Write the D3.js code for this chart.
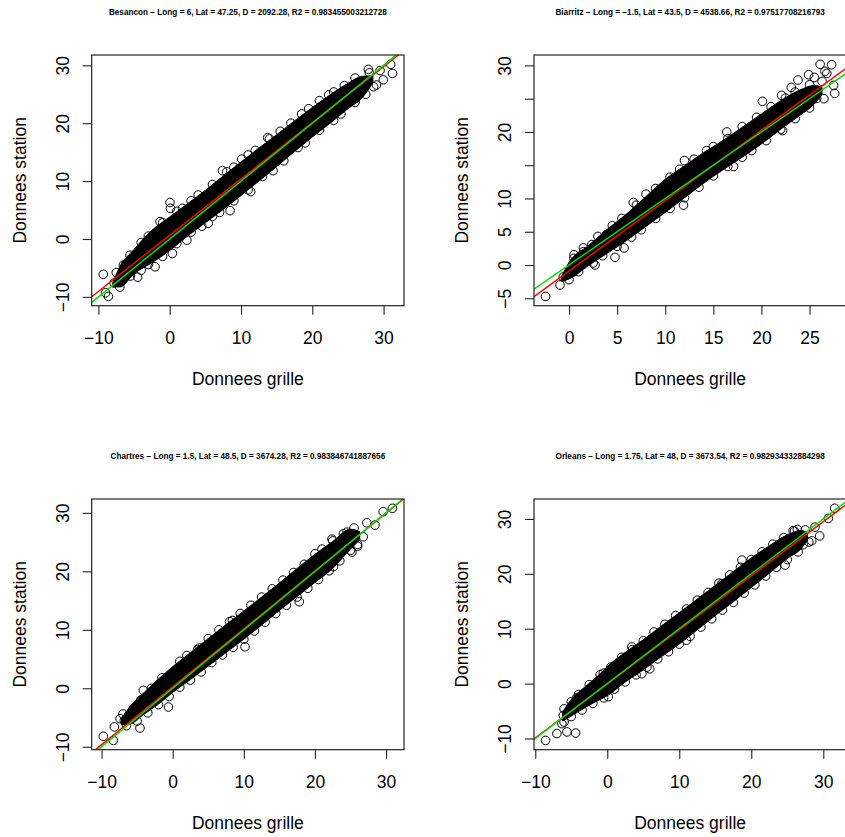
<!DOCTYPE html>
<html><head><meta charset="utf-8">
<script src="https://cdn.jsdelivr.net/npm/d3@7"></script>
<style>
body{margin:0;background:#fff}
svg{display:block}
text{font-family:"Liberation Sans",Arial,Helvetica,sans-serif;fill:#000}
</style>
</head><body>
<svg id="chart" width="845" height="837"></svg>
<script>
// ---------- DATA ----------
const stationNames = ["Besancon", "Biarritz", "Chartres", "Orleans"];
const stationLong = ["6", "−1.5", "1.5", "1.75"];
const stationLat = ["47.25", "43.5", "48.5", "48"];
const stationD = ["2092.28", "4538.66", "3674.28", "3673.54"];
const stationR2 = ["0.983455003212728", "0.97517708216793", "0.983846741887656", "0.982934332884298"];

// fitted regression line (red) per station: station = a + b * grille
const regIntercept = [0.65, -0.9, 0.25, -0.05];
const regSlope = [0.971, 1.058, 0.99, 0.985];

// tick values
const besanconXTicks = [-10, 0, 10, 20, 30];
const besanconYTicks = [-10, 0, 10, 20, 30];
const biarritzXTicks = [0, 5, 10, 15, 20, 25];
const biarritzYTicks = [-5, 0, 5, 10, 15, 20, 25, 30];
const biarritzYLabels = ["−5", "0", "5", "10", "", "20", "", "30"];
const chartresXTicks = [-10, 0, 10, 20, 30];
const chartresYTicks = [-10, 0, 10, 20, 30];
const orleansXTicks = [-10, 0, 10, 20, 30];
const orleansYTicks = [-10, 0, 10, 20, 30];

// dense (over-plotted) core of the point cloud: grille value, lowest / highest station value
const besanconEnvX  = [-8.0, -7, -5, -2.5, 0, 2.5, 5, 7.5, 10, 12.5, 15, 17.5, 20, 22.5, 25, 27, 28.5];
const besanconEnvHi = [-7.6, -4.8, -1.8, 1.5, 3.8, 6.1, 8.4, 10.9, 13.3, 15.7, 18.0, 20.4, 22.7, 24.9, 26.9, 28.1, 28.2];
const besanconEnvLo = [-8.2, -8.3, -6.0, -4.1, -2.0, 0.5, 2.8, 5.1, 7.5, 10.0, 12.5, 15.1, 17.6, 20.0, 22.5, 24.4, 27.0];

const biarritzEnvX  = [-0.8, 0, 2, 4, 6, 8, 10, 12, 14, 16, 18, 20, 22, 24, 25.5, 26.3];
const biarritzEnvHi = [-1.8, 0.4, 2.9, 5.4, 7.7, 10.3, 12.9, 14.9, 16.9, 18.7, 20.7, 22.7, 24.7, 26.3, 27.0, 26.7];
const biarritzEnvLo = [-2.4, -2.1, -0.1, 1.8, 3.7, 5.8, 7.9, 10.1, 12.3, 14.3, 16.2, 18.2, 20.4, 22.5, 24.2, 25.6];

const chartresEnvX  = [-7.2, -6, -4, -2, 0, 2.5, 5, 7.5, 10, 12.5, 15, 17.5, 20, 22.5, 25, 26.3];
const chartresEnvHi = [-5.2, -3.1, -0.7, 1.6, 3.7, 6.1, 8.5, 10.9, 13.2, 15.6, 18.0, 20.5, 22.9, 25.1, 27.2, 26.8];
const chartresEnvLo = [-6.2, -6.1, -4.4, -2.7, -0.7, 1.5, 3.8, 6.1, 8.4, 10.8, 13.3, 15.7, 18.1, 20.5, 23.8, 25.4];

const orleansEnvX  = [-6.2, -5, -3, -1, 0, 2.5, 5, 7.5, 10, 12.5, 15, 17.5, 20, 22.5, 25, 27, 27.8];
const orleansEnvHi = [-5.2, -2.9, -0.5, 1.8, 3.1, 5.7, 8.0, 10.5, 12.9, 15.4, 17.9, 20.4, 22.9, 25.1, 27.1, 27.9, 27.4];
const orleansEnvLo = [-6.8, -5.9, -4.3, -2.9, -2.2, 0.3, 2.5, 4.9, 7.2, 9.8, 12.4, 14.9, 17.5, 20.1, 22.8, 24.7, 26.2];

// individually visible points [grille, station]
const besanconPts = [
  [-9.32,-6.1],[-8.6,-9.92],[-9.0,-9.3],[-7.8,-7.6],[-6.2,-4.4],[-5.57,-2.8],[-4.5,-6.6],[-2.06,-4.8],
  [-1.36,3.0],[0.04,6.3],[0.1,5.3],[1.8,5.3],[0.37,-2.5],[2.4,-0.2],[5.4,2.7],[7.4,11.8],[8.46,4.9],
  [10.1,13.8],[11.36,8.2],[13.74,17.5],[22.3,24.9],[27.86,29.3],[31.0,30.18],[31.24,28.6],[29.96,27.5],
  [29.5,29.1],[28.6,26.3],
  [-7.5,-5.8],[-6.5,-4.5],[-4,-0.6],[-3,0.5],[-1,2.8],[1,4.8],[3,6.6],[4,7.6],[6,9.4],[8,11.6],[9,12.4],
  [11,14.5],[12,15.3],[14,17.3],[15.5,18.6],[17,20.0],[18.5,21.6],[19.5,22.5],[21,23.9],[23,25.4],
  [24.5,26.5],[26,27.8],[28,28.7],
  [-7,-8.3],[-5.5,-6.4],[-4,-5.4],[-3,-4.4],[-1,-3.0],[1,-0.8],[3,1.2],[4.5,2.2],[6,3.9],[7,4.6],
  [9,6.6],[11,8.5],[13,10.8],[14.5,11.8],[16,13.5],[18,15.8],[19,16.6],[21,18.8],[23,20.5],[24,21.6],
  [26,23.6],[27.5,25.0],[29,26.6]
];
const biarritzPts = [
  [-2.44,-4.72],[-0.94,-3.0],[-0.6,-1.8],[0.52,1.56],[1.49,2.57],[2.36,3.07],[2.7,0],[3.9,4.6],
  [4.78,1.15],[5.72,2.57],[6.68,9.4],[8.0,10.65],[11.9,9.0],[12.0,15.7],[14.3,17.2],[17.1,14.8],
  [16.4,20.0],[20.1,24.6],[22.2,20.2],[23.1,26.7],[23.8,27.8],[26.1,30.17],[27.3,30.1],[27.62,25.8],
  [27.5,27.0],[26.6,29.1],[25.75,25.05],[24.9,28.6],[22.1,25.5],[25.5,28.2],[26.8,28.8],[24.5,24.0],
  [0.5,1.0],[1.5,2.0],[3,4.3],[4.5,5.9],[5.5,7.0],[7,9.0],[9,11.5],[10.5,13.2],[11.5,14.4],[13,15.9],
  [15,17.8],[16.5,19.0],[18,20.8],[19.5,22.2],[21,23.8],[22.5,25.1],[23.5,26.0],[25,27.1],[26.3,27.6],
  [0,-2.2],[1,-1.0],[2.5,0.3],[3.5,1.4],[5,2.8],[6.5,4.2],[7.5,5.3],[9,7.0],[10.5,8.5],[12,10.1],
  [13.5,11.7],[15,13.4],[16.5,14.8],[18,16.2],[19,17.2],[20.5,18.7],[22,20.4],[23.5,22.0],[25,23.6],[26.5,25.0]
];
const chartresPts = [
  [-9.76,-8.2],[-8.35,-8.91],[-8.2,-6.6],[-7.4,-5.2],[-6.8,-5.5],[-4.6,-6.8],[-4.13,-0.34],[-0.6,-3.2],
  [3.74,6.9],[10.17,7.1],[8.4,11.6],[17.8,14.8],[22.4,25.5],[25.2,23.3],[27.3,28.3],[28.45,27.9],
  [29.6,30.2],[30.9,30.78],[26.8,25.9],[22.6,20.8],[26.0,24.3],[24.5,26.7],
  [-7,-4.4],[-5.5,-3.4],[-4.5,-2.0],[-3,0],[-1.5,1.8],[1,4.6],[2,5.6],[3.5,6.6],[5,8.5],[6.5,10.0],
  [8,11.4],[9.5,12.8],[11,14.2],[12.5,15.6],[14,17.0],[15.5,18.5],[17,19.8],[18.5,21.2],[20,23.0],
  [21,23.8],[22.5,25.2],[24,26.4],[25.5,27.4],
  [-6.5,-6.4],[-5,-5.6],[-3.5,-4.2],[-2,-2.8],[-0.5,-1.4],[1,0.2],[2.5,1.4],[4,2.8],[5.5,4.4],[7,5.7],
  [8.5,7.0],[10,8.4],[11.5,9.8],[13,11.3],[14.5,12.8],[16,14.2],[17.5,15.6],[19,17.1],[20.5,18.6],
  [22,20.1],[23.5,21.8],[25,23.6],[26,24.6]
];
const orleansPts = [
  [-8.57,-10.35],[-7.0,-9.1],[-5.6,-8.8],[-4.4,-9.0],[-4.25,-2.6],[-6.1,-5.8],[-6.3,-7.3],[0.14,-2.4],
  [-0.55,1.9],[3.4,6.7],[4.8,1.8],[5.9,2.7],[18.7,22.5],[24.7,21.6],[25.8,27.85],[26.4,28.1],[28.4,26.0],
  [29.5,26.9],[28.85,28.5],[30.7,30.1],[31.59,31.94],[15.9,18.2],[11.0,7.9],[27.2,25.3],
  [-6,-4.6],[-5,-3.3],[-4,-2.0],[-2.5,-0.2],[-1,1.6],[0.5,3.0],[2,4.8],[3.5,6.2],[5,7.8],[6.5,9.4],
  [8,10.8],[9.5,12.4],[11,13.6],[12.5,15.2],[14,16.6],[15.5,18.3],[17,19.8],[18.5,21.2],[20,22.6],
  [21.5,24.0],[23,25.4],[24.5,26.6],[26,27.8],[27.5,28.0],
  [-6,-7.0],[-5,-6.0],[-3.5,-4.8],[-2,-3.6],[-0.5,-2.6],[1,-1.0],[2.5,0.3],[4,1.6],[5.5,3.0],[7,4.5],
  [8.5,5.8],[10,7.2],[11.5,8.6],[13,10.3],[14.5,11.8],[16,13.4],[17.5,14.8],[19,16.5],[20.5,18.0],
  [22,19.6],[23.5,21.2],[25,22.6],[26.5,24.0],[28,25.8]
];

const xLabel = "Donnees grille";
const yLabel = "Donnees station";

// ---------- ASSEMBLY ----------
const panels = [
  {env:[besanconEnvX,besanconEnvLo,besanconEnvHi], pts:besanconPts, xt:besanconXTicks, yt:besanconYTicks, yl:null},
  {env:[biarritzEnvX,biarritzEnvLo,biarritzEnvHi], pts:biarritzPts, xt:biarritzXTicks, yt:biarritzYTicks, yl:biarritzYLabels},
  {env:[chartresEnvX,chartresEnvLo,chartresEnvHi], pts:chartresPts, xt:chartresXTicks, yt:chartresYTicks, yl:null},
  {env:[orleansEnvX,orleansEnvLo,orleansEnvHi], pts:orleansPts, xt:orleansXTicks, yt:orleansYTicks, yl:null}
];

// layout
const boxW = 312.3, boxH = 250.7;
const colLeft = [91.7, 534];
const rowTop = [55, 499];
const fmt = v => String(v).replace("-", "−");

const svg = d3.select("#chart");

panels.forEach((p, i) => {
  const L = colLeft[i % 2], T = rowTop[Math.floor(i / 2)];
  const [ex, elo, ehi] = p.env;
  const allX = p.pts.map(d => d[0]).concat(ex);
  const allY = p.pts.map(d => d[1]).concat(elo, ehi);
  const [x0, x1] = d3.extent(allX), [y0, y1] = d3.extent(allY);
  const rx = x1 - x0, ry = y1 - y0;
  const x = d3.scaleLinear().domain([x0 - 0.04 * rx, x1 + 0.04 * rx]).range([0, boxW]);
  const y = d3.scaleLinear().domain([y0 - 0.04 * ry, y1 + 0.04 * ry]).range([boxH, 0]);

  const g = svg.append("g").attr("transform", `translate(${L},${T})`);
  const clipId = "clip" + i;
  g.append("clipPath").attr("id", clipId).append("rect").attr("width", boxW).attr("height", boxH);
  const plot = g.append("g").attr("clip-path", `url(#${clipId})`);

  // dense core
  const envData = ex.map((v, k) => ({x: v, lo: elo[k], hi: ehi[k]}));
  plot.append("path")
    .datum(envData)
    .attr("d", d3.area().x(d => x(d.x)).y0(d => y(d.lo)).y1(d => y(d.hi)).curve(d3.curveMonotoneX))
    .attr("fill", "#000").attr("stroke", "#000").attr("stroke-width", 1);

  // points
  plot.selectAll("circle.pt").data(p.pts).join("circle")
    .attr("class", "pt")
    .attr("cx", d => x(d[0])).attr("cy", d => y(d[1]))
    .attr("r", 4.3).attr("fill", "none").attr("stroke", "#000").attr("stroke-width", 1);

  // lines
  const xd = x.domain();
  plot.append("line")
    .attr("x1", x(xd[0])).attr("y1", y(regIntercept[i] + regSlope[i] * xd[0]))
    .attr("x2", x(xd[1])).attr("y2", y(regIntercept[i] + regSlope[i] * xd[1]))
    .attr("stroke", "#ff0000").attr("stroke-width", 1.5);
  plot.append("line")
    .attr("x1", x(xd[0])).attr("y1", y(xd[0]))
    .attr("x2", x(xd[1])).attr("y2", y(xd[1]))
    .attr("stroke", "#00e000").attr("stroke-width", 1.5);

  // box
  g.append("rect").attr("width", boxW).attr("height", boxH)
    .attr("fill", "none").attr("stroke", "#222").attr("stroke-width", 1.2);

  // x axis
  const xa = g.append("g").attr("transform", `translate(0,${boxH})`)
    .call(d3.axisBottom(x).tickValues(p.xt).tickSize(9).tickSizeOuter(0).tickFormat(fmt));
  xa.select(".domain").remove();
  xa.selectAll(".tick line").attr("stroke", "#222").attr("stroke-width", 1.1);
  xa.selectAll(".tick text").attr("y", 38.3).attr("dy", 0)
    .attr("font-size", "17.5px").attr("fill", "#000").attr("font-family", "Liberation Sans, Arial, sans-serif");

  // y axis
  const ya = g.append("g")
    .call(d3.axisLeft(y).tickValues(p.yt).tickSize(9).tickSizeOuter(0)
      .tickFormat((v, k) => p.yl ? p.yl[k] : fmt(v)));
  ya.select(".domain").remove();
  ya.selectAll(".tick line").attr("stroke", "#222").attr("stroke-width", 1.1);
  ya.selectAll(".tick text")
    .attr("transform", "rotate(-90)")
    .attr("x", 0).attr("y", -23).attr("dy", 0)
    .attr("text-anchor", "middle")
    .attr("font-size", "17.5px").attr("fill", "#000").attr("font-family", "Liberation Sans, Arial, sans-serif");

  // axis titles
  g.append("text").attr("x", boxW / 2).attr("y", boxH + 79.3)
    .attr("text-anchor", "middle").attr("font-size", "17.5px").text(xLabel);
  g.append("text").attr("transform", `translate(-66,${boxH / 2}) rotate(-90)`)
    .attr("text-anchor", "middle").attr("font-size", "17.5px").text(yLabel);

  // main title
  g.append("text").attr("x", boxW / 2).attr("y", -40)
    .attr("text-anchor", "middle").attr("font-size", "8.2px").attr("font-weight", "bold")
    .text(`${stationNames[i]} − Long = ${stationLong[i]}, Lat = ${stationLat[i]}, D = ${stationD[i]}, R2 = ${stationR2[i]}`);
});
</script>
</body></html>
